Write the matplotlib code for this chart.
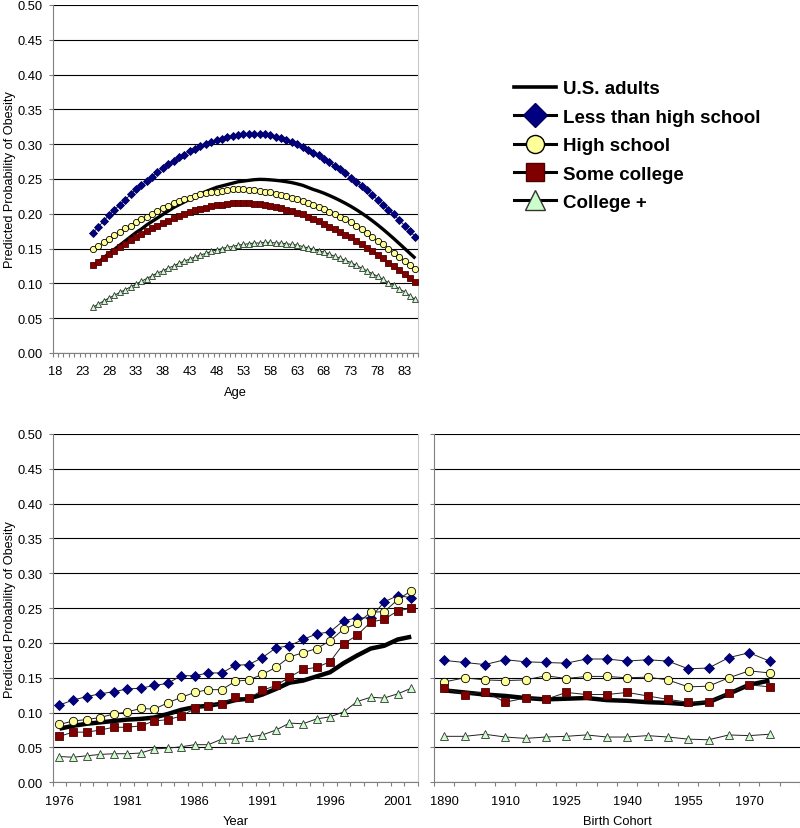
import numpy as np
import matplotlib
matplotlib.use('Agg')
import matplotlib.pyplot as plt
from matplotlib.lines import Line2D

# Arial-like font
plt.rcParams['font.family'] = ['Liberation Sans', 'DejaVu Sans']

# ---- data: age panel (ages 25..85) ----
ages = list(range(25, 86))
age_us = [0.124, 0.130, 0.137, 0.143, 0.149, 0.155, 0.161, 0.167, 0.173, 0.178,
          0.184, 0.189, 0.194, 0.199, 0.204, 0.209, 0.213, 0.217, 0.221, 0.225,
          0.228, 0.232, 0.235, 0.238, 0.240, 0.242, 0.244, 0.246, 0.247, 0.248, 0.249,
          0.2495, 0.2493, 0.2488, 0.2481, 0.2472, 0.2461, 0.2448,
          0.243, 0.241, 0.238, 0.235, 0.2325, 0.2296, 0.2263, 0.2228, 0.219, 0.215,
          0.2107, 0.206, 0.201, 0.1957, 0.190, 0.184, 0.1777, 0.1711, 0.1643, 0.1573,
          0.1502, 0.1431, 0.136]
age_less = [0.173, 0.181, 0.190, 0.198, 0.206, 0.213, 0.220, 0.228, 0.235, 0.241,
            0.247, 0.253, 0.260, 0.266, 0.271, 0.276, 0.281, 0.285, 0.290, 0.293,
            0.297, 0.300, 0.303, 0.306, 0.308, 0.310, 0.312, 0.313, 0.314, 0.315,
            0.315,
            0.315, 0.314, 0.313, 0.311, 0.309, 0.306, 0.303, 0.300, 0.296, 0.292,
            0.288, 0.284, 0.279, 0.274, 0.269, 0.264, 0.258, 0.252, 0.246, 0.240,
            0.234, 0.227, 0.220, 0.213, 0.206, 0.199, 0.191, 0.183, 0.175, 0.167]
age_hs = [0.149, 0.154, 0.159, 0.164, 0.169, 0.174, 0.179, 0.183, 0.188, 0.192,
          0.196, 0.200, 0.204, 0.208, 0.211, 0.215, 0.218, 0.221, 0.223, 0.226,
          0.228, 0.230, 0.231, 0.232, 0.233, 0.234, 0.235,
          0.235, 0.235, 0.234, 0.234, 0.233, 0.232, 0.231, 0.229, 0.227, 0.225,
          0.223, 0.221, 0.218, 0.216, 0.213, 0.210, 0.207, 0.203, 0.200, 0.196,
          0.192, 0.188, 0.183, 0.178, 0.173, 0.167, 0.161, 0.156, 0.150, 0.144,
          0.138, 0.132, 0.126, 0.120]
age_some = [0.126, 0.131, 0.137, 0.142, 0.147, 0.152, 0.157, 0.162, 0.166, 0.171,
            0.175, 0.179, 0.183, 0.187, 0.190, 0.194, 0.197, 0.200, 0.202, 0.205,
            0.207, 0.209, 0.211, 0.212, 0.213, 0.214, 0.215,
            0.215, 0.215, 0.215, 0.214, 0.214, 0.213, 0.211, 0.210, 0.208, 0.206,
            0.204, 0.201, 0.199, 0.196, 0.192, 0.189, 0.185, 0.181,
            0.178, 0.174, 0.170, 0.166, 0.161, 0.156, 0.151, 0.146, 0.141, 0.136,
            0.130, 0.125, 0.119, 0.114, 0.108, 0.102]
age_col = [0.066, 0.070, 0.075, 0.079, 0.083, 0.087, 0.091, 0.095, 0.099, 0.103,
           0.107, 0.111, 0.115, 0.118, 0.122, 0.125, 0.129, 0.132, 0.135, 0.138,
           0.141, 0.143, 0.146, 0.148, 0.150, 0.152, 0.153, 0.155, 0.156, 0.157,
           0.158, 0.158, 0.159, 0.159, 0.158, 0.158, 0.157, 0.156, 0.155, 0.153,
           0.151, 0.149, 0.147, 0.145, 0.142, 0.139, 0.136, 0.133, 0.130, 0.126,
           0.122, 0.118, 0.114, 0.110, 0.106, 0.101, 0.097, 0.092, 0.088, 0.082, 0.077]

# ---- data: year panel (1976..2002) ----
years = list(range(1976, 2003))
year_us = [0.077, 0.081, 0.084, 0.086, 0.088, 0.090, 0.091, 0.093, 0.098, 0.104,
           0.108, 0.110, 0.113, 0.118, 0.120, 0.126, 0.134, 0.143, 0.146, 0.152,
           0.158, 0.171, 0.182, 0.192, 0.196, 0.205, 0.209]
year_less = [0.111, 0.118, 0.123, 0.127, 0.130, 0.134, 0.135, 0.139, 0.142, 0.153,
             0.153, 0.157, 0.157, 0.168, 0.169, 0.179, 0.193, 0.196, 0.205, 0.213,
             0.216, 0.232, 0.236, 0.236, 0.259, 0.268, 0.265]
year_hs = [0.083, 0.088, 0.090, 0.093, 0.098, 0.101, 0.106, 0.105, 0.114, 0.122,
           0.129, 0.133, 0.133, 0.145, 0.147, 0.155, 0.165, 0.180, 0.186, 0.192,
           0.203, 0.220, 0.228, 0.244, 0.245, 0.262, 0.275]
year_some = [0.066, 0.072, 0.072, 0.075, 0.079, 0.079, 0.081, 0.088, 0.090, 0.095,
             0.106, 0.110, 0.113, 0.122, 0.121, 0.132, 0.139, 0.151, 0.162, 0.165,
             0.173, 0.199, 0.211, 0.230, 0.234, 0.246, 0.250]
year_col = [0.037, 0.036, 0.038, 0.040, 0.041, 0.041, 0.042, 0.048, 0.049, 0.051,
            0.054, 0.054, 0.062, 0.062, 0.065, 0.068, 0.075, 0.085, 0.084, 0.091,
            0.094, 0.101, 0.116, 0.122, 0.121, 0.127, 0.135]

# ---- data: birth cohort panel ----
cohorts = ['1890', '1900', '1905', '1910', '1915', '1920', '1925', '1930', '1935',
           '1940', '1945', '1950', '1955', '1960', '1965', '1970', '1975']
coh_us = [0.132, 0.129, 0.126, 0.124, 0.121, 0.119, 0.120, 0.121, 0.118, 0.117,
          0.115, 0.114, 0.112, 0.115, 0.127, 0.140, 0.146]
coh_less = [0.175, 0.172, 0.169, 0.176, 0.173, 0.172, 0.171, 0.177, 0.177, 0.174,
            0.176, 0.174, 0.163, 0.164, 0.179, 0.186, 0.174]
coh_hs = [0.144, 0.150, 0.147, 0.146, 0.147, 0.153, 0.149, 0.152, 0.152, 0.150,
          0.151, 0.147, 0.137, 0.138, 0.150, 0.160, 0.157]
coh_some = [0.135, 0.126, 0.130, 0.115, 0.121, 0.119, 0.129, 0.126, 0.126, 0.129,
            0.124, 0.119, 0.115, 0.115, 0.128, 0.140, 0.137]
coh_col = [0.066, 0.066, 0.069, 0.065, 0.063, 0.065, 0.066, 0.068, 0.065, 0.065,
           0.067, 0.065, 0.062, 0.061, 0.068, 0.067, 0.069]

labels = ['U.S. adults', 'Less than high school', 'High school', 'Some college', 'College +']

# marker styles for the four education groups
edu_styles = [
    dict(marker='D', mfc='#000080', mec='#000060'),
    dict(marker='o', mfc='#FFFF99', mec='#000000'),
    dict(marker='s', mfc='#800000', mec='#500000'),
    dict(marker='^', mfc='#CCFFCC', mec='#333333'),
]

W, H = 800, 829
fig = plt.figure(figsize=(W / 100, H / 100), dpi=100)
ax_age = fig.add_axes([52.7 / W, 1 - 354 / H, 365.3 / W, 348 / H])
ax_year = fig.add_axes([52.7 / W, 1 - 783.3 / H, 365.3 / W, 348.3 / H])
ax_coh = fig.add_axes([434 / W, 1 - 783.3 / H, 366 / W, 348.3 / H])


def style_axis(ax, show_ylabels=True):
    ax.set_ylim(0, 0.5)
    ax.set_yticks(np.arange(0, 0.501, 0.05))
    ax.yaxis.grid(True, color='#000000', linewidth=0.8)
    ax.set_axisbelow(True)
    ax.spines['top'].set_visible(False)
    ax.spines['left'].set_color('#808080')
    ax.spines['bottom'].set_color('#808080')
    ax.spines['right'].set_color('#c8c8c8')
    ax.tick_params(axis='y', length=3, width=0.8, color='#808080', labelsize=9.3, pad=4)
    ax.tick_params(axis='x', which='major', length=0, labelsize=9.3, pad=9)
    ax.tick_params(axis='x', which='minor', length=3, width=0.8, color='#808080')
    if show_ylabels:
        ax.yaxis.set_major_formatter(plt.FormatStrFormatter('%.2f'))
        ax.set_ylabel('Predicted Probability of Obesity', fontsize=9.1, labelpad=1.5)
    else:
        ax.tick_params(axis='y', labelleft=False)


def draw(ax, x, us, edu, ms, us_lw):
    ax.plot(x, us, color='black', linewidth=us_lw, zorder=2, solid_capstyle='butt')
    for vals, st in zip(edu, edu_styles):
        ax.plot(x, vals, color='#202020', linewidth=0.7, markersize=ms[st['marker']],
                markeredgewidth=0.6, zorder=3, **st)


# top: age
draw(ax_age, ages, age_us, [age_less, age_hs, age_some, age_col],
     {'D': 3.8, 'o': 4.5, 's': 3.9, '^': 4.7}, 2.4)
style_axis(ax_age)
ax_age.set_xlim(17.5, 85.5)
ax_age.set_xticks(range(18, 86, 5))
ax_age.set_xticks(np.arange(17.5, 86, 1), minor=True)
ax_age.set_xlabel('Age', fontsize=9.3, labelpad=6)

# bottom left: year
bottom_ms = {'D': 5.0, 'o': 6.0, 's': 5.2, '^': 6.0}
draw(ax_year, years, year_us, [year_less, year_hs, year_some, year_col], bottom_ms, 3.2)
style_axis(ax_year)
ax_year.set_xlim(years[0] - 0.5, years[-1] + 0.5)
ax_year.set_xticks(range(years[0], years[-1] + 1, 5))
ax_year.set_xticks(np.arange(years[0] - 0.5, years[-1] + 1, 1), minor=True)
ax_year.set_xlabel('Year', fontsize=9.3, labelpad=6)

# bottom right: birth cohort
idx = np.arange(len(cohorts))
draw(ax_coh, idx, coh_us, [coh_less, coh_hs, coh_some, coh_col], bottom_ms, 3.2)
style_axis(ax_coh, show_ylabels=False)
ax_coh.spines['right'].set_visible(False)
ax_coh.set_xlim(-0.5, len(cohorts) + 0.5)
ax_coh.set_xticks(idx[::3])
ax_coh.set_xticklabels(cohorts[::3])
ax_coh.set_xticks(np.arange(-0.5, len(cohorts) + 1, 1), minor=True)
ax_coh.set_xlabel('Birth Cohort', fontsize=9.3, labelpad=6)

# legend
handles = [Line2D([], [], color='black', linewidth=2.6)]
leg_ms = {'D': 12, 'o': 13, 's': 12.5, '^': 14}
for st in edu_styles:
    handles.append(Line2D([], [], color='black', linewidth=2.2, markersize=leg_ms[st['marker']],
                          markeredgewidth=1.0, **st))
fig.legend(handles, labels, loc='upper left', bbox_to_anchor=(505 / W, 1 - 72 / H),
           frameon=False, prop={'size': 13.5, 'weight': 'bold'}, handlelength=2.2,
           handletextpad=0.4, labelspacing=0.6, borderpad=0)

fig.savefig('out.png', dpi=100)
